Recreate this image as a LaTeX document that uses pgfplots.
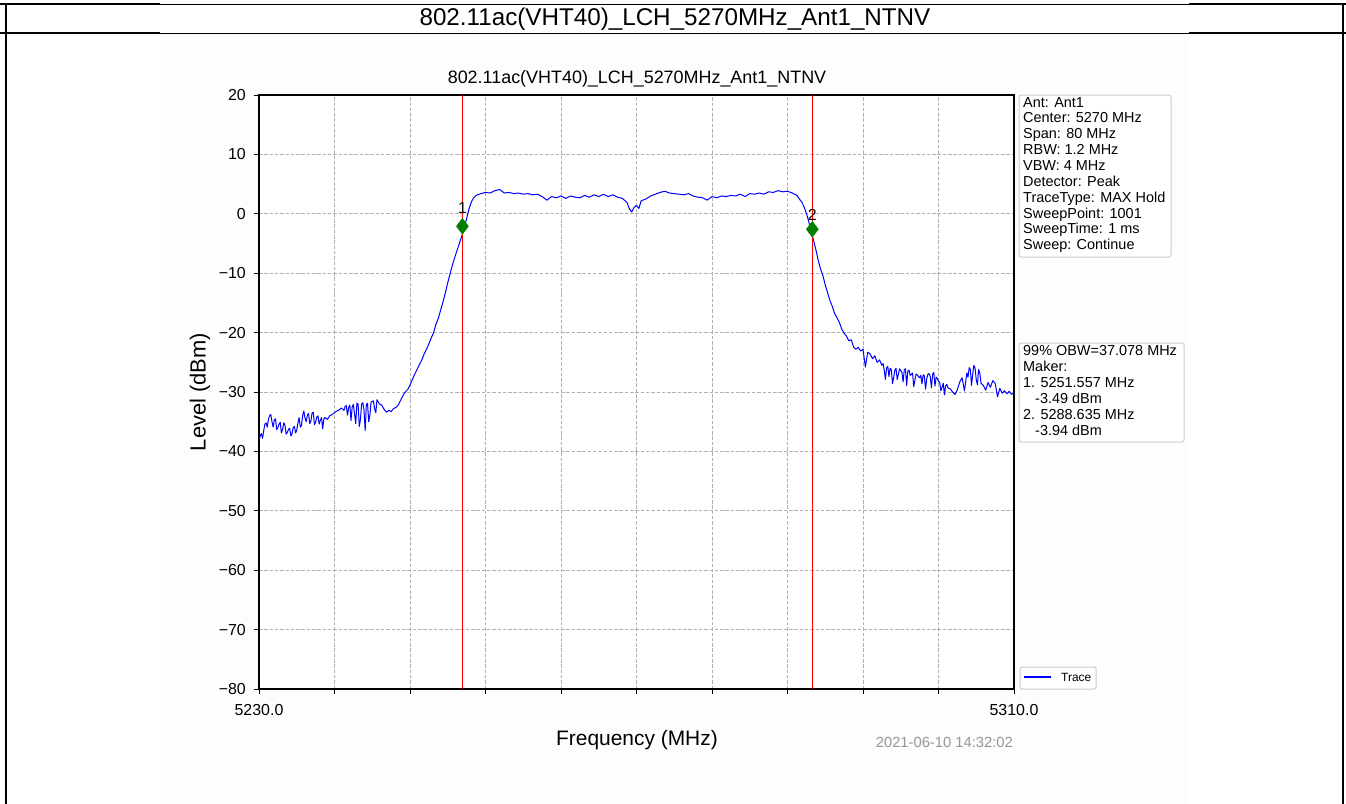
\documentclass[border=0pt]{standalone}
\usepackage{pgfplots}
\usepackage{pgfplotstable}
\pgfplotsset{compat=1.18}
\usepackage{fontspec}
\setmainfont{Liberation Sans}
\definecolor{gridgray}{RGB}{176,176,176}
\definecolor{bgoff}{RGB}{253,253,253}
\definecolor{mkgreen}{RGB}{0,128,0}
\definecolor{tsgray}{RGB}{150,150,150}
\definecolor{boxedge}{RGB}{204,204,204}
\newcommand{\fs}[2]{\fontsize{#1}{#2}\selectfont}

\pgfplotstableread{
f L
5230.00 -38.2
5230.125 -37.4
5230.25 -37.0
5230.375 -37.8
5230.50 -36.5
5230.625 -35.4
5230.75 -35.2
5230.875 -35.9
5231.00 -34.6
5231.125 -34.0
5231.25 -33.8
5231.375 -35.0
5231.50 -35.9
5231.625 -34.7
5231.75 -34.5
5231.875 -36.3
5232.00 -36.0
5232.125 -35.4
5232.25 -35.1
5232.375 -36.9
5232.50 -36.3
5232.625 -35.2
5232.75 -35.6
5232.875 -37.1
5233.00 -36.8
5233.125 -36.3
5233.25 -36.1
5233.375 -37.4
5233.50 -37.0
5233.625 -36.0
5233.75 -35.8
5233.875 -36.9
5234.00 -36.4
5234.125 -35.2
5234.25 -34.3
5234.375 -35.9
5234.50 -35.6
5234.625 -34.0
5234.75 -33.2
5234.875 -34.4
5235.00 -35.0
5235.125 -33.9
5235.25 -33.6
5235.375 -35.3
5235.50 -34.9
5235.625 -33.5
5235.75 -33.4
5235.875 -35.5
5236.00 -35.1
5236.125 -34.2
5236.25 -34.0
5236.375 -35.4
5236.50 -34.8
5236.625 -34.3
5236.75 -36.2
5236.875 -34.5
5237.00 -34.3
5237.25 -34.6
5237.50 -34.0
5237.75 -33.8
5238.00 -33.5
5238.25 -33.2
5238.50 -33.0
5238.75 -32.7
5239.00 -33.1
5239.125 -32.4
5239.25 -32.3
5239.375 -33.9
5239.50 -32.6
5239.625 -32.2
5239.75 -34.8
5239.875 -32.5
5240.00 -32.1
5240.125 -33.7
5240.25 -35.3
5240.375 -31.9
5240.50 -32.0
5240.625 -35.8
5240.75 -34.6
5240.875 -32.0
5241.00 -31.8
5241.125 -33.0
5241.25 -36.5
5241.375 -32.1
5241.50 -31.9
5241.625 -35.0
5241.75 -33.9
5241.875 -31.7
5242.00 -31.6
5242.125 -31.5
5242.25 -32.8
5242.375 -33.5
5242.50 -31.3
5242.75 -32.0
5243.00 -32.2
5243.25 -32.9
5243.50 -33.4
5243.75 -33.1
5244.00 -33.3
5244.25 -32.8
5244.50 -32.6
5244.75 -32.2
5245.00 -31.4
5245.25 -30.6
5245.50 -30.0
5245.75 -29.6
5246.00 -28.8
5246.25 -27.9
5246.50 -27.0
5246.75 -26.2
5247.00 -25.4
5247.25 -24.6
5247.50 -23.6
5247.75 -22.8
5248.00 -21.9
5248.25 -20.9
5248.50 -20.0
5248.75 -18.6
5249.00 -17.6
5249.25 -16.2
5249.50 -14.8
5249.75 -13.3
5250.00 -11.6
5250.25 -10.1
5250.50 -8.6
5250.75 -7.3
5251.00 -6.1
5251.25 -4.9
5251.50 -3.7
5251.75 -2.3
5252.00 -0.8
5252.25 0.8
5252.50 2.0
5252.75 2.7
5253.00 3.1
5253.50 3.4
5254.00 3.6
5254.50 3.5
5255.00 3.9
5255.50 4.1
5256.00 3.5
5256.50 3.6
5257.00 3.4
5257.50 3.5
5258.00 3.3
5258.50 3.4
5259.00 3.2
5259.50 3.3
5260.00 2.9
5260.50 2.3
5261.00 2.9
5261.50 2.7
5262.00 3.0
5262.50 2.6
5263.00 3.0
5263.50 2.8
5264.00 2.7
5264.50 3.1
5265.00 2.8
5265.50 3.2
5266.00 2.9
5266.50 3.3
5267.00 2.9
5267.50 3.2
5268.00 2.8
5268.50 2.6
5269.00 1.9
5269.25 0.8
5269.50 0.3
5269.75 1.1
5270.00 1.4
5270.25 0.9
5270.50 2.2
5271.00 2.5
5271.50 3.0
5272.00 3.3
5272.50 3.6
5273.00 3.8
5273.50 3.5
5274.00 3.4
5274.50 3.3
5275.00 3.2
5275.50 3.4
5276.00 3.0
5276.50 2.8
5277.00 2.7
5277.50 2.3
5278.00 2.9
5278.50 2.7
5279.00 3.0
5279.50 2.9
5280.00 3.1
5280.50 3.0
5281.00 3.3
5281.50 2.9
5282.00 3.4
5282.50 3.3
5283.00 3.5
5283.50 3.3
5284.00 3.7
5284.50 3.6
5285.00 3.9
5285.50 3.7
5286.00 3.8
5286.50 3.5
5287.00 3.1
5287.25 2.5
5287.50 2.0
5287.75 1.2
5288.00 0.1
5288.25 -1.3
5288.50 -2.9
5288.75 -4.4
5289.00 -6.0
5289.25 -7.8
5289.50 -9.3
5289.75 -10.4
5290.00 -12.0
5290.25 -13.3
5290.50 -14.6
5290.75 -15.6
5291.00 -16.8
5291.25 -17.5
5291.50 -18.3
5291.75 -19.4
5292.00 -20.1
5292.25 -20.6
5292.50 -21.4
5292.75 -21.2
5293.00 -22.4
5293.25 -22.8
5293.50 -22.5
5293.75 -23.1
5294.00 -22.8
5294.25 -25.8
5294.50 -23.3
5294.75 -23.6
5295.00 -24.4
5295.25 -23.9
5295.50 -25.0
5295.75 -24.6
5296.00 -25.5
5296.125 -25.2
5296.25 -26.3
5296.375 -27.9
5296.50 -25.9
5296.625 -25.7
5296.75 -27.4
5296.875 -26.0
5297.00 -26.2
5297.125 -28.6
5297.25 -27.6
5297.375 -26.3
5297.50 -26.0
5297.625 -27.9
5297.75 -27.0
5297.875 -26.1
5298.00 -26.4
5298.125 -26.7
5298.25 -28.3
5298.375 -26.2
5298.50 -26.1
5298.625 -28.9
5298.75 -26.5
5298.875 -26.3
5299.00 -27.2
5299.125 -27.0
5299.25 -26.8
5299.375 -29.1
5299.50 -28.0
5299.625 -27.0
5299.75 -27.1
5299.875 -27.4
5300.00 -27.6
5300.125 -27.2
5300.25 -28.6
5300.375 -27.1
5300.50 -27.3
5300.625 -29.5
5300.75 -27.8
5300.875 -27.0
5301.00 -26.9
5301.125 -27.4
5301.25 -29.3
5301.375 -27.0
5301.50 -26.7
5301.625 -29.0
5301.75 -27.5
5301.875 -27.7
5302.00 -28.2
5302.125 -28.4
5302.25 -29.8
5302.375 -29.2
5302.50 -28.5
5302.625 -30.5
5302.75 -29.0
5302.875 -28.7
5303.00 -29.3
5303.25 -29.5
5303.50 -30.0
5303.75 -30.4
5304.00 -29.6
5304.25 -28.3
5304.50 -27.6
5304.75 -29.8
5305.00 -26.8
5305.125 -27.5
5305.25 -25.9
5305.375 -26.2
5305.50 -28.9
5305.625 -27.0
5305.75 -25.5
5305.875 -26.0
5306.00 -27.9
5306.125 -28.8
5306.25 -26.2
5306.375 -26.8
5306.50 -28.5
5306.75 -28.9
5307.00 -29.7
5307.25 -28.4
5307.50 -29.2
5307.75 -28.1
5308.00 -28.5
5308.25 -30.8
5308.50 -29.4
5308.75 -30.2
5309.00 -29.8
5309.25 -30.3
5309.50 -29.9
5309.75 -30.4
5310.00 -30.1
}\trace

\begin{document}
\begin{tikzpicture}
\useasboundingbox (0,0) rectangle (1346bp,-804bp);
\fill[white] (0,0) rectangle (1346bp,-804bp);
\fill[bgoff] (160bp,-33bp) rectangle (1189bp,-804bp);
% outer table frame
\draw[line width=2bp] (0,-4bp) -- (160bp,-4bp);
\draw[line width=1bp] (160bp,-4bp) -- (1189bp,-4bp);
\draw[line width=2bp] (1189bp,-4bp) -- (1346bp,-4bp);
\draw[line width=2bp] (0,-33bp) -- (160bp,-33bp);
\draw[line width=1bp] (160bp,-33bp) -- (1189bp,-33bp);
\draw[line width=2bp] (1189bp,-33bp) -- (1346bp,-33bp);
\draw[line width=2bp] (6bp,-3bp) -- (6bp,-804bp);
\draw[line width=2bp] (1343bp,-3bp) -- (1343bp,-804bp);
\node[font=\fs{24.3}{27}] at (675bp,-19bp) {802.11ac(VHT40)\_LCH\_5270MHz\_Ant1\_NTNV};

\begin{axis}[
  at={(259bp,-689bp)}, anchor=south west,
  scale only axis, width=755bp, height=594bp,
  xmin=5230, xmax=5310, ymin=-80, ymax=20,
  xtick={5230,5238,...,5310},
  xticklabels={5230.0,,,,,,,,,,5310.0},
  ytick={-80,-70,...,20},
  yticklabels={−80,−70,−60,−50,−40,−30,−20,−10,0,10,20},
  scaled x ticks=false,
  xtick pos=left, ytick pos=left,
  tick align=outside, major tick length=5bp,
  tick style={black, line width=1bp},
  axis line style={line width=1.2bp},
  grid=major,
  major grid style={gridgray, dash pattern=on 3.5bp off 1.8bp, line width=0.7bp},
  ticklabel style={font=\fs{16}{19}},
  yticklabel style={inner sep=0pt, xshift=-8bp},
  xticklabel style={inner sep=0pt, yshift=-10bp},
  axis background/.style={fill=white},
]
\addplot[blue, line width=1bp, line join=round] table[x=f, y=L] {\trace};
\addplot[red, line width=1bp] coordinates {(5251.557,-80) (5251.557,20)};
\addplot[red, line width=1bp] coordinates {(5288.635,-80) (5288.635,20)};
\addplot[only marks, mark=diamond*, mark size=8bp, mkgreen, mark options={draw=mkgreen, fill=mkgreen}] coordinates {(5251.557,-2.1) (5288.635,-2.6)};
\node[anchor=base, font=\fs{16}{19}, inner sep=0pt] at (axis cs:5251.557,0.1) {1};
\node[anchor=base, font=\fs{16}{19}, inner sep=0pt] at (axis cs:5288.635,-1.05) {2};
\end{axis}

\node[font=\fs{18}{21}] at (637bp,-79bp) {802.11ac(VHT40)\_LCH\_5270MHz\_Ant1\_NTNV};
\node[font=\fs{22}{26}, rotate=90] at (200bp,-392bp) {Level (dBm)};
\node[font=\fs{21}{25}] at (637bp,-740bp) {Frequency (MHz)};
\node[font=\fs{14.8}{17}, text=tsgray, anchor=east, inner sep=0pt] at (1013bp,-742bp) {2021-06-10 14:32:02};

% info box 1
\draw[boxedge, fill=white, rounded corners=2bp, line width=1bp] (1019bp,-95bp) rectangle (1171bp,-257bp);
\node[anchor=north west, align=left, inner sep=0pt, font=\fs{14.5}{15.9}] at (1023bp,-97bp) {Ant: Ant1\\Center: 5270 MHz\\Span: 80 MHz\\RBW: 1.2 MHz\\VBW: 4 MHz\\Detector: Peak\\TraceType: MAX Hold\\SweepPoint: 1001\\SweepTime: 1 ms\\Sweep: Continue};
% info box 2
\draw[boxedge, fill=white, rounded corners=2bp, line width=1bp] (1019bp,-343bp) rectangle (1184bp,-442bp);
\node[anchor=north west, align=left, inner sep=0pt, font=\fs{14.5}{16.2}] at (1023bp,-345bp) {99\% OBW=37.078 MHz\\Maker:\\1. 5251.557 MHz\\\hspace*{12bp}-3.49 dBm\\2. 5288.635 MHz\\\hspace*{12bp}-3.94 dBm};
% legend
\draw[boxedge, fill=white, rounded corners=2bp, line width=1bp] (1020bp,-667bp) rectangle (1096bp,-689bp);
\draw[blue, line width=1.2bp] (1024bp,-677bp) -- (1051bp,-677bp);
\node[anchor=west, inner sep=0pt, font=\fs{12}{14}] at (1061bp,-677bp) {Trace};
\end{tikzpicture}
\end{document}
